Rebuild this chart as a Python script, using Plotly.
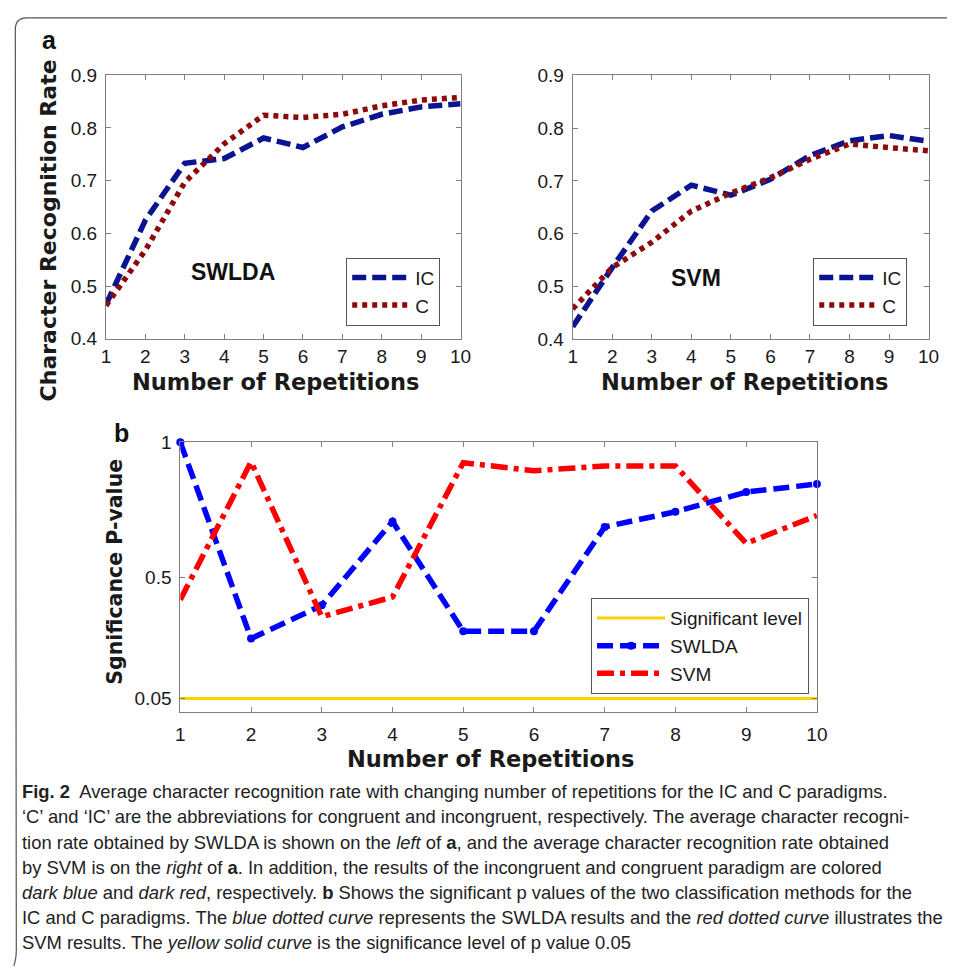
import plotly.graph_objects as go

W, H = 958, 977

# ---- data ----
reps = [1, 2, 3, 4, 5, 6, 7, 8, 9, 10]
swlda_ic = [0.465, 0.625, 0.733, 0.742, 0.781, 0.763, 0.802, 0.826, 0.840, 0.846]
swlda_c = [0.463, 0.568, 0.697, 0.770, 0.824, 0.820, 0.826, 0.842, 0.853, 0.858]
svm_ic = [0.424, 0.536, 0.643, 0.692, 0.673, 0.703, 0.748, 0.776, 0.786, 0.775]
svm_c = [0.458, 0.536, 0.584, 0.643, 0.677, 0.706, 0.741, 0.770, 0.763, 0.757]
p_swlda = [1.0, 0.272, 0.395, 0.706, 0.299, 0.299, 0.686, 0.742, 0.815, 0.845]
p_svm = [0.416, 0.927, 0.353, 0.426, 0.924, 0.894, 0.912, 0.912, 0.625, 0.728]
sig_level = [0.05] * 10

top_yticks = [0.4, 0.5, 0.6, 0.7, 0.8, 0.9]
bot_yticks = [0.05, 0.5, 1]

caption_lines = [
    "<b>Fig. 2</b>  Average character recognition rate with changing number of repetitions for the IC and C paradigms.",
    "‘C’ and ‘IC’ are the abbreviations for congruent and incongruent, respectively. The average character recogni-",
    "tion rate obtained by SWLDA is shown on the <i>left</i> of <b>a</b>, and the average character recognition rate obtained",
    "by SVM is on the <i>right</i> of <b>a</b>. In addition, the results of the incongruent and congruent paradigm are colored",
    "<i>dark blue</i> and <i>dark red</i>, respectively. <b>b</b> Shows the significant p values of the two classification methods for the",
    "IC and C paradigms. The <i>blue dotted curve</i> represents the SWLDA results and the <i>red dotted curve</i> illustrates the",
    "SVM results. The <i>yellow solid curve</i> is the significance level of p value 0.05",
]


def px(x):
    return x / W


def py(y):
    return 1 - y / H


NAVY = "#0a1490"
DRED = "#8c0a0a"
BLUE = "#0000ff"
RED = "#ff0000"
YEL = "#ffd200"
AXC = "#808080"
TXT = "#1a1a1a"
FONT = "Liberation Sans, Arial, sans-serif"
TFONT = "DejaVu Sans, sans-serif"

fig = go.Figure()

fig.add_trace(go.Scatter(x=reps, y=swlda_ic, mode="lines", name="IC",
                         line=dict(color=NAVY, width=5.5, dash="14px,6px"),
                         xaxis="x", yaxis="y", legend="legend"))
fig.add_trace(go.Scatter(x=reps, y=swlda_c, mode="lines", name="C",
                         line=dict(color=DRED, width=5.5, dash="5px,5px"),
                         xaxis="x", yaxis="y", legend="legend"))
fig.add_trace(go.Scatter(x=reps, y=svm_ic, mode="lines", name="IC",
                         line=dict(color=NAVY, width=5.5, dash="14px,6px"),
                         xaxis="x2", yaxis="y2", legend="legend2"))
fig.add_trace(go.Scatter(x=reps, y=svm_c, mode="lines", name="C",
                         line=dict(color=DRED, width=5.5, dash="5px,5px"),
                         xaxis="x2", yaxis="y2", legend="legend2"))
fig.add_trace(go.Scatter(x=reps, y=sig_level, mode="lines", name="Significant level",
                         line=dict(color=YEL, width=3),
                         xaxis="x3", yaxis="y3", legend="legend3"))
fig.add_trace(go.Scatter(x=reps, y=p_swlda, mode="lines+markers", name="SWLDA",
                         line=dict(color=BLUE, width=5.5, dash="16px,7px"),
                         marker=dict(color=BLUE, size=8),
                         xaxis="x3", yaxis="y3", legend="legend3", cliponaxis=False))
fig.add_trace(go.Scatter(x=reps, y=p_svm, mode="lines", name="SVM",
                         line=dict(color=RED, width=5.5, dash="17px,6px,5px,6px"),
                         xaxis="x3", yaxis="y3", legend="legend3"))

tickfont = dict(family=FONT, size=19, color=TXT)
axcommon = dict(showline=True, linecolor=AXC, linewidth=1, mirror="ticks",
                ticks="inside", ticklen=5, tickcolor=AXC, showgrid=False,
                zeroline=False, tickfont=tickfont)

YSO = 4
fig.update_layout(
    width=W, height=H, autosize=False,
    margin=dict(l=0, r=0, t=0, b=0),
    paper_bgcolor="white", plot_bgcolor="white",
    xaxis=dict(domain=[px(102.7), px(463.3)], range=[1, 10], tickvals=reps,
               anchor="y", **axcommon),
    yaxis=dict(domain=[py(336), py(66.7)], range=[0.4, 0.9], tickvals=top_yticks,
               tickformat=".1f", anchor="x", ticklabelstandoff=YSO, **axcommon),
    xaxis2=dict(domain=[px(577.3), px(939.3)], range=[1, 10], tickvals=reps,
                anchor="y2", **axcommon),
    yaxis2=dict(domain=[py(336.7), py(66.7)], range=[0.4, 0.9], tickvals=top_yticks,
                tickformat=".1f", anchor="x2", ticklabelstandoff=YSO, **axcommon),
    xaxis3=dict(domain=[px(178.3), px(825.7)], range=[1, 10], tickvals=reps,
                anchor="y3", ticklabelstandoff=5, **axcommon),
    yaxis3=dict(domain=[py(717.3), py(441.7)], range=[0, 1], tickvals=bot_yticks,
                ticktext=["0.05", "0.5", "1"], anchor="x3", ticklabelstandoff=YSO,
                **axcommon),
    showlegend=True,
)

legfont = dict(family=FONT, size=19, color=TXT)
legcommon = dict(bgcolor="white", bordercolor="#555555", borderwidth=1,
                 font=legfont, xanchor="left", yanchor="top", tracegroupgap=0)
fig.update_layout(
    legend=dict(x=px(347), y=py(253), itemwidth=58, **legcommon),
    legend2=dict(x=px(822), y=py(253), itemwidth=58, **legcommon),
    legend3=dict(x=px(596), y=py(601), itemwidth=68, **legcommon),
)

titlefont = dict(family=TFONT, size=22.5, color=TXT)
ann = []
ann.append(dict(text="<b>Character Recognition Rate</b>", x=px(44), y=py(225),
                textangle=-90, font=dict(family=TFONT, size=22, color=TXT)))
ann.append(dict(text="<b>Number of Repetitions</b>", x=px(275), y=py(380), font=titlefont))
ann.append(dict(text="<b>Number of Repetitions</b>", x=px(752.5), y=py(380), font=titlefont))
ann.append(dict(text="<b>Number of Repetitions</b>", x=px(494), y=py(765), font=titlefont))
ann.append(dict(text="<b>Sgnificance P-value</b>", x=px(112), y=py(574), textangle=-90,
                font=dict(family=TFONT, size=20.5, color=TXT)))
ann.append(dict(text="<b>SWLDA</b>", x=px(232), y=py(268),
                font=dict(family=FONT, size=23, color="#111111")))
ann.append(dict(text="<b>SVM</b>", x=px(703), y=py(274),
                font=dict(family=FONT, size=23, color="#111111")))
ann.append(dict(text="<b>a</b>", x=px(45.5), y=py(31),
                font=dict(family=FONT, size=25, color="#111111")))
ann.append(dict(text="<b>b</b>", x=px(118), y=py(432),
                font=dict(family=FONT, size=25, color="#111111")))

capfont = dict(family=FONT, size=18.4, color="#222222")
for i, line in enumerate(caption_lines):
    ann.append(dict(text=line, x=px(15), y=py(799 + i * 25.7), xanchor="left",
                    font=capfont))

for a in ann:
    a.setdefault("xanchor", "center")
    a.update(xref="paper", yref="paper", yanchor="middle", showarrow=False)
fig.update_layout(annotations=ann)

# frame with rounded top-left corner
frame_path = (f"M {px(958)},{py(8)} L {px(22)},{py(8)} "
              f"Q {px(10.5)},{py(8)} {px(10.5)},{py(20)} "
              f"L {px(11.5)},{py(960)} Q {px(11.5)},{py(970)} {px(9)},{py(977)}")
fig.add_shape(type="path", path=frame_path, xref="paper", yref="paper",
              line=dict(color="#555555", width=1.2))

fig.write_html(
    "out.html",
    config={"displayModeBar": False},
    post_script="document.body.style.margin='0';document.body.style.overflow='hidden';",
)
